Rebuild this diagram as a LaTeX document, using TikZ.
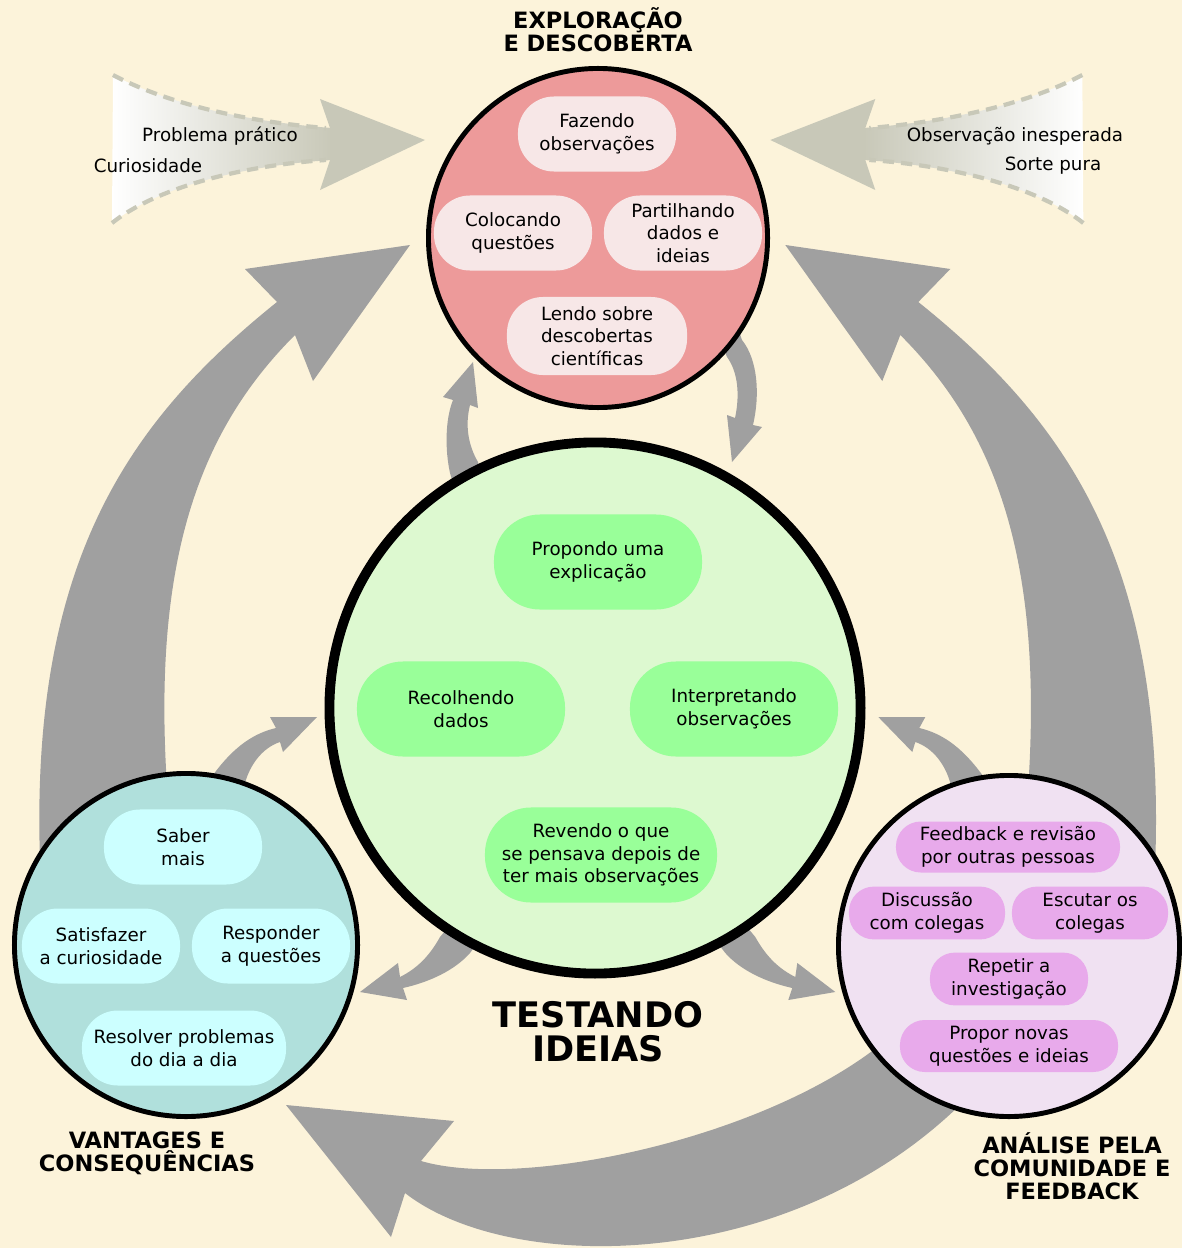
\documentclass[tikz,border=0pt]{standalone}
\usepackage{fontspec}
\setmainfont{DejaVu Sans}
\definecolor{fundo}{RGB}{252,243,218}
\definecolor{cinza}{RGB}{160,160,160}
\definecolor{funil}{RGB}{200,200,184}
\definecolor{rosa}{RGB}{237,154,154}
\definecolor{rosaclaro}{RGB}{247,231,231}
\definecolor{verdeclaro}{RGB}{221,249,208}
\definecolor{verde}{RGB}{153,255,153}
\definecolor{azul}{RGB}{176,224,220}
\definecolor{azulclaro}{RGB}{204,255,255}
\definecolor{lilas}{RGB}{240,225,242}
\definecolor{lilasforte}{RGB}{232,170,235}
\tikzstyle{ciclo}=[
    texto/.style={font={\fontsize{13}{16}\selectfont},align=center,text=black},
    titulo/.style={font={\fontsize{16}{16.5}\selectfont\bfseries},align=center},
    bolha/.style={circle,draw=black,line width=3.5pt,inner sep=0pt},
    caixa/.style={texto,rectangle,inner sep=0pt},
    caixa rosa/.style={caixa,fill=rosaclaro,minimum width=3.95cm,minimum height=1.875cm,rounded corners=0.9cm},
    caixa verde/.style={caixa,fill=verde,minimum width=5.2cm,minimum height=2.375cm,rounded corners=1.15cm},
    caixa azul/.style={caixa,fill=azulclaro,minimum width=3.95cm,minimum height=1.875cm,rounded corners=0.9cm},
    caixa lilas/.style={caixa,fill=lilasforte,minimum width=3.9cm,minimum height=1.32cm,rounded corners=0.62cm},
    tracejado/.style={draw=funil,line width=3pt,dash pattern=on 8pt off 5pt},
]
% seta larga do lado esquerdo (espelhada para o lado direito)
\newcommand{\setalado}[1][]{
    \begin{scope}[#1]
    \fill[cinza] (40,860) .. controls (30,560) and (130,420) .. (277,302)
        -- (245,269) -- (410,245) -- (313,381) -- (295,335)
        .. controls (200,430) and (150,560) .. (168,800) -- cycle;
    \fill[cinza] (210,805) -- (213,775) .. controls (235,745) and (255,733) .. (276,728)
        -- (270,717) -- (317,717) -- (283,752) -- (280,742)
        .. controls (262,748) and (250,765) .. (245,783) -- (250,805) -- cycle;
    \fill[cinza] (450,925) -- (440,937) .. controls (430,955) and (418,968) .. (400,977)
        -- (398,963) -- (360,992) -- (407,1000) -- (403,988)
        .. controls (430,982) and (455,970) .. (470,953) -- (480,940) -- cycle;
    \end{scope}
}
% funil com seta no topo
\newcommand{\funil}[3][]{
    \begin{scope}[#1]
    \shade[left color=#2,right color=#3] (113,75) .. controls (170,105) and (250,122) .. (332,128)
        -- (332,160) .. controls (250,165) and (160,185) .. (112,223) -- cycle;
    \fill[funil] (330,128) -- (320,99) -- (425,140) -- (320,190) -- (330,160) -- cycle;
    \draw[tracejado] (113,75) .. controls (170,105) and (250,122) .. (326,128);
    \draw[tracejado] (112,223) .. controls (160,185) and (250,165) .. (326,160);
    \end{scope}
}

\begin{document}
\begin{tikzpicture}
[
    ciclo,
    x=0.025cm, y=-0.025cm
]
    \useasboundingbox (0,0) rectangle (1182,1248);
    \clip (0,0) rectangle (1182,1248);
    \fill[fundo] (0,0) rectangle (1182,1248);

    \funil{white}{funil}
    \funil[xshift=29.875cm,xscale=-1]{funil}{white}
    \node[texto] (pratico) at (220,136) {Problema prático};
    \node[texto] (curios) at (148,166) {Curiosidade};
    \node[texto] (inesp) at (1015,136) {Observação inesperada};
    \node[texto] (sorte) at (1053,166) {Sorte pura};

    \setalado
    \setalado[xshift=29.875cm,xscale=-1]
    % seta de baixo
    \fill[cinza] (880,1045) .. controls (760,1140) and (520,1190) .. (421,1161)
        -- (454,1121) -- (286,1105) -- (391,1237) -- (405,1193)
        .. controls (510,1275) and (790,1275) .. (965,1100) -- cycle;
    % setas entre exploracao e teste
    \fill[cinza] (455,490) -- (450,473) .. controls (445,450) and (445,420) .. (453,400)
        -- (443,397) -- (473,362) -- (478,408) -- (470,405)
        .. controls (465,425) and (468,445) .. (478,462) -- (482,480) -- cycle;
    \fill[cinza] (735,320) -- (742,340) .. controls (758,360) and (760,395) .. (753,425)
        -- (762,427) -- (732,462) -- (727,415) -- (735,418)
        .. controls (740,395) and (738,372) .. (727,357) -- (720,340) -- cycle;

    \node[bolha,fill=rosa,minimum size=8.475cm] (explora) at (598,238) {};
    \node[bolha,fill=verdeclaro,line width=7pt,minimum size=13.275cm] (testa) at (595,708) {};
    \node[bolha,fill=azul,minimum size=8.575cm] (vantagem) at (186,945) {};
    \node[bolha,fill=lilas,minimum size=8.525cm] (analise) at (1009,946) {};

    \node[caixa rosa] (fazendo) at (597,134) {Fazendo\\observações};
    \node[caixa rosa] (colocando) at (513,233) {Colocando\\questões};
    \node[caixa rosa] (partilhando) at (683,233) {Partilhando\\dados e\\ideias};
    \node[caixa rosa,minimum width=4.5cm,minimum height=1.95cm] (lendo) at (597,336) {Lendo sobre\\descobertas\\científicas};

    \node[caixa verde] (propondo) at (598,562) {Propondo uma\\explicação};
    \node[caixa verde] (recolhendo) at (461,709) {Recolhendo\\dados};
    \node[caixa verde] (interpretando) at (734,709) {Interpretando\\observações};
    \node[caixa verde,minimum width=5.8cm] (revendo) at (601,855) {Revendo o que\\se pensava depois de\\ter mais observações};

    \node[caixa azul] (saber) at (183,847) {Saber\\mais};
    \node[caixa azul] (satisfazer) at (101,946) {Satisfazer\\a curiosidade};
    \node[caixa azul] (responder) at (271,946) {Responder\\a questões};
    \node[caixa azul,minimum width=5.1cm] (resolver) at (184,1048) {Resolver problemas\\do dia a dia};

    \node[caixa lilas,minimum width=5.6cm,minimum height=1.275cm] (feedback) at (1008,847) {Feedback e revisão\\por outras pessoas};
    \node[caixa lilas] (discussao) at (927,913) {Discussão\\com colegas};
    \node[caixa lilas] (escutar) at (1090,913) {Escutar os\\colegas};
    \node[caixa lilas,minimum width=3.95cm] (repetir) at (1009,979) {Repetir a\\investigação};
    \node[caixa lilas,minimum width=5.45cm,minimum height=1.3cm] (propor) at (1009,1046) {Propor novas\\questões e ideias};

    \node[titulo] (t1) at (598,30) {EXPLORAÇÃO\\E DESCOBERTA};
    \node[titulo,font={\fontsize{25}{24}\selectfont\bfseries}] (t2) at (598,1032) {TESTANDO\\IDEIAS};
    \node[titulo] (t3) at (147,1153) {VANTAGES E\\CONSEQUÊNCIAS};
    \node[titulo] (t4) at (1072,1166) {ANÁLISE PELA\\COMUNIDADE E\\FEEDBACK};

\end{tikzpicture}
\end{document}
